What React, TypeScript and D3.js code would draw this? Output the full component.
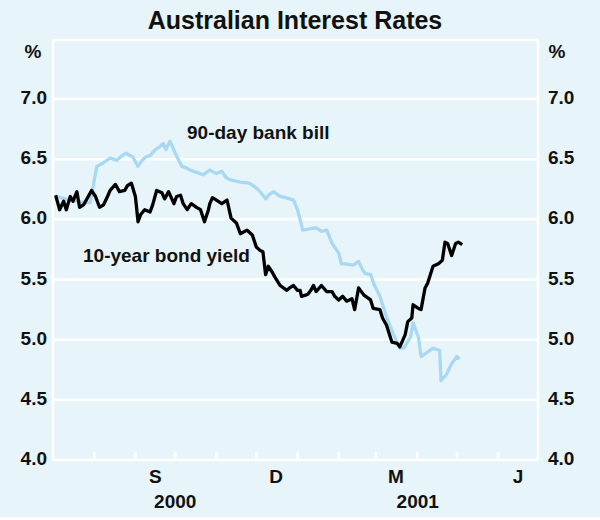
import React from "react";
import * as d3 from "d3";

// Days since 1 July 2000 and values (%)
const billDays = [2, 13, 23, 28, 33, 38, 43, 48, 52, 55, 58, 60, 64, 67, 70, 73, 77, 80, 83, 85, 88, 92, 97, 100, 103, 108, 113, 118, 123, 127, 130, 133, 141, 148, 153, 156, 160, 163, 166, 171, 175, 181, 184, 188, 193, 198, 202, 206, 210, 215, 217, 220, 226, 230, 233, 235, 239, 242, 246, 251, 256, 261, 264, 269, 271, 275, 277, 281, 286, 291, 292, 296, 300, 304, 306];
const billValues = [6.19, 6.16, 6.14, 6.14, 6.44, 6.47, 6.51, 6.49, 6.53, 6.55, 6.53, 6.52, 6.44, 6.49, 6.52, 6.53, 6.58, 6.6, 6.63, 6.58, 6.65, 6.55, 6.44, 6.43, 6.41, 6.39, 6.37, 6.41, 6.38, 6.4, 6.35, 6.33, 6.31, 6.3, 6.26, 6.23, 6.17, 6.21, 6.23, 6.19, 6.18, 6.16, 6.08, 5.91, 5.92, 5.93, 5.9, 5.91, 5.8, 5.72, 5.63, 5.63, 5.62, 5.65, 5.58, 5.55, 5.54, 5.45, 5.36, 5.19, 5.05, 4.93, 4.93, 5.02, 5.14, 5.02, 4.86, 4.89, 4.93, 4.91, 4.66, 4.71, 4.8, 4.86, 4.84];

const bondDays = [2, 3, 5, 8, 10, 13, 15, 18, 20, 23, 26, 29, 32, 35, 38, 41, 43, 47, 50, 54, 56, 59, 62, 64, 66, 69, 73, 75, 78, 82, 84, 87, 91, 93, 96, 98, 101, 104, 108, 111, 114, 117, 118, 120, 123, 127, 131, 134, 138, 141, 146, 150, 153, 156, 158, 160, 162, 165, 167, 171, 176, 178, 181, 184, 186, 187, 190, 192, 194, 196, 198, 202, 206, 210, 212, 215, 218, 221, 225, 227, 230, 234, 239, 241, 246, 248, 251, 255, 259, 261, 265, 267, 270, 271, 275, 277, 280, 282, 286, 290, 293, 295, 297, 300, 303, 305, 308];
const bondValues = [6.2, 6.16, 6.08, 6.15, 6.08, 6.19, 6.15, 6.23, 6.1, 6.12, 6.18, 6.24, 6.19, 6.1, 6.12, 6.19, 6.24, 6.29, 6.23, 6.24, 6.28, 6.3, 6.19, 5.98, 6.04, 6.08, 6.06, 6.12, 6.24, 6.22, 6.17, 6.23, 6.13, 6.19, 6.2, 6.13, 6.08, 6.13, 6.1, 6.08, 5.98, 6.08, 6.13, 6.18, 6.16, 6.13, 6.16, 6.01, 5.97, 5.88, 5.91, 5.87, 5.77, 5.74, 5.73, 5.54, 5.61, 5.56, 5.52, 5.45, 5.41, 5.43, 5.45, 5.41, 5.41, 5.36, 5.37, 5.38, 5.41, 5.45, 5.4, 5.45, 5.4, 5.4, 5.36, 5.33, 5.36, 5.32, 5.34, 5.25, 5.43, 5.37, 5.33, 5.26, 5.25, 5.18, 5.12, 4.98, 4.97, 4.94, 5.04, 5.15, 5.18, 5.29, 5.26, 5.25, 5.43, 5.47, 5.61, 5.63, 5.66, 5.81, 5.8, 5.7, 5.8, 5.81, 5.79];

const yTicks = [4.0, 4.5, 5.0, 5.5, 6.0, 6.5, 7.0];
const monthLabels = [
  { date: "2000-09-16", label: "S" },
  { date: "2000-12-16", label: "D" },
  { date: "2001-03-16", label: "M" },
  { date: "2001-06-16", label: "J" },
];
const yearLabels = [
  { from: "2000-07-01", to: "2001-01-01", label: "2000" },
  { from: "2001-01-01", to: "2001-07-01", label: "2001" },
];

const W = 600;
const H = 520;
const left = 53;
const right = 538;
const top = 40;
const bottom = 460;
const FONT = "'Liberation Sans', Arial, Helvetica, sans-serif";
const BG = "#e7f5fa";
const BILL = "#a8d8f3";
const FS = 19;

export default function App() {
  const start = new Date(2000, 6, 1);
  const end = new Date(2001, 6, 1);
  const x = d3.scaleTime().domain([start, end]).range([left, right]);
  const y = d3.scaleLinear().domain([4, 7]).range([bottom, 99]);
  const toDate = (d: number) => d3.timeDay.offset(start, d);
  const parse = (s: string) => {
    const [yy, mm, dd] = s.split("-").map(Number);
    return new Date(yy, mm - 1, dd);
  };

  const line = d3
    .line<[number, number]>()
    .x((d) => x(toDate(d[0])))
    .y((d) => y(d[1]))
    .curve(d3.curveLinear);

  const billPts: [number, number][] = billDays.map((d, i) => [d, billValues[i]]);
  const bondPts: [number, number][] = bondDays.map((d, i) => [d, bondValues[i]]);
  const monthTicks = d3.timeMonth.range(d3.timeMonth.offset(start, 1), end);

  return (
    <svg
      width={W}
      height={H}
      style={{ position: "absolute", left: 0, top: 0, display: "block" }}
      fontFamily={FONT}
    >
      <rect x={0} y={0} width={W} height={517} fill={BG} />
      <text x={295} y={29} textAnchor="middle" fontSize={25} fontWeight="bold" fill="#111">
        Australian Interest Rates
      </text>
      {/* frame */}
      <line x1={left} x2={left} y1={top} y2={bottom} stroke="#fff" strokeWidth={2.5} />
      <line x1={right} x2={right} y1={top} y2={bottom} stroke="#fff" strokeWidth={2.5} />
      <line x1={left} x2={right} y1={top} y2={top} stroke="#fff" strokeWidth={2.5} />
      {yTicks.map((t) => (
        <g key={t}>
          <line x1={left} x2={right} y1={y(t)} y2={y(t)} stroke="#fff" strokeWidth={2.5} />
          <text x={47} y={y(t) + 5} textAnchor="end" fontSize={FS} fontWeight="bold" fill="#111">
            {t.toFixed(1)}
          </text>
          <text x={548} y={y(t) + 5} textAnchor="start" fontSize={FS} fontWeight="bold" fill="#111">
            {t.toFixed(1)}
          </text>
        </g>
      ))}
      <text x={33} y={58} textAnchor="middle" fontSize={FS} fontWeight="bold" fill="#111">%</text>
      <text x={557} y={58} textAnchor="middle" fontSize={FS} fontWeight="bold" fill="#111">%</text>
      {monthTicks.map((m) => (
        <line key={+m} x1={x(m)} x2={x(m)} y1={bottom} y2={bottom - 8} stroke="#fff" strokeWidth={2.5} />
      ))}
      {monthLabels.map((m) => (
        <text key={m.label} x={x(parse(m.date))} y={483} textAnchor="middle" fontSize={FS} fontWeight="bold" fill="#111">
          {m.label}
        </text>
      ))}
      {yearLabels.map((m) => (
        <text
          key={m.label}
          x={(x(parse(m.from)) + x(parse(m.to))) / 2}
          y={508}
          textAnchor="middle"
          fontSize={FS}
          fontWeight="bold"
          fill="#111"
        >
          {m.label}
        </text>
      ))}
      <path d={line(billPts) || ""} fill="none" stroke={BILL} strokeWidth={3.3} strokeLinejoin="round" />
      <path d={line(bondPts) || ""} fill="none" stroke="#000" strokeWidth={3.3} strokeLinejoin="round" />
      <text x={187} y={139} fontSize={FS} fontWeight="bold" fill="#111">90-day bank bill</text>
      <text x={83} y={262} fontSize={FS} fontWeight="bold" fill="#111">10-year bond yield</text>
    </svg>
  );
}
